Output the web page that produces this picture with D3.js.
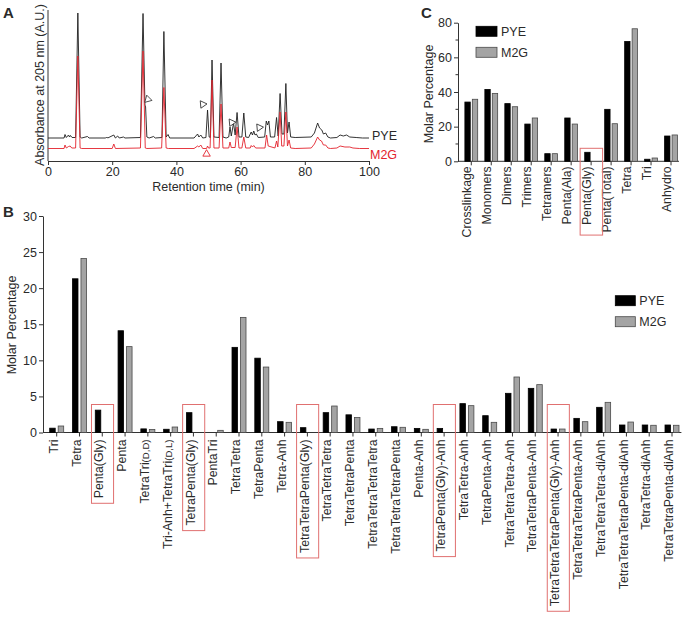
<!DOCTYPE html>
<html><head><meta charset="utf-8">
<script src="https://cdn.jsdelivr.net/npm/d3@7"></script>
<style>
body{margin:0;background:#fff}
svg{display:block;background:#fff}
text{font-family:"Liberation Sans",Arial,sans-serif;fill:#2a2a2a}
</style>
</head><body>
<svg id="fig" width="683" height="619"></svg>
<script>
// ---------------- DATA ----------------
const seriesNames = ["PYE", "M2G"];

// Panel A: chromatograms, [retention time (min), absorbance (A.U.)]
const pyeTrace = [[0,23],[5,23],[5.3,26.5],[5.7,23.5],[6.4,26],[6.7,24],[7.0,25.5],[7.5,23.5],[8.6,23.5],[9.3,148],[10.0,24],[10.5,23],[12.3,24.5],[12.8,23],[18,23],[18.3,24],[18.6,23],[20.5,26],[21,23],[21.7,25],[22.2,23],[23.5,24],[24,23],[28.8,23.5],[29.6,147.5],[30.2,56],[30.4,54],[30.8,24],[31.5,23],[32.9,24.5],[33.4,23],[35.5,23.5],[36.1,129.5],[36.8,24],[37.4,26.5],[37.9,23],[45.5,23],[46.6,27],[47.0,24],[47.6,26],[48.2,23],[49.2,23.5],[49.7,51],[50.2,24],[50.6,23.5],[51.1,101],[51.7,24],[53.3,23.5],[53.9,98],[54.5,24],[55.5,23],[56.3,24],[56.7,34],[57.1,25],[57.8,38],[58.3,26],[58.9,48.5],[59.5,24],[60.4,24],[61.0,48],[61.6,24],[62.5,23.5],[63.3,29],[63.7,26],[64.1,30],[64.5,26],[64.9,27],[65.5,23.5],[67.5,24],[68.0,40],[68.4,36],[68.8,40],[69.3,24],[70.6,24],[71.2,43.5],[71.7,25],[72.3,67.5],[72.9,27],[73.5,27],[74.1,77.5],[74.6,28],[75.1,39],[75.6,24],[77,23.5],[82,24],[83,28],[84,38],[84.6,33],[85.3,31],[85.8,27],[86.5,28],[87.2,24],[88,23],[90,23.5],[91,26],[92,25],[93,26],[94,24],[96,23.5],[98,23],[100,23]];
const m2gTrace = [[0,12.5],[5,12.5],[5.3,16],[5.7,13],[6.4,14.5],[6.9,15],[7.4,13],[8.6,13],[9.3,105],[10.0,13],[10.5,12.5],[20,12.5],[20.5,17],[21,12.5],[28.8,13],[29.6,110],[30.3,13],[30.8,12.5],[35.4,13],[36.1,73.5],[36.8,13],[37.5,12.5],[45.5,12.5],[46.6,15],[47.0,14],[47.6,16],[48.2,12.5],[49.4,12.5],[49.7,15],[50.0,13],[50.5,13],[51.1,81],[51.7,13],[53.3,13],[53.9,57],[54.5,13],[56.3,13],[56.7,19],[57.1,13.5],[58.3,13.5],[58.9,34],[59.5,13],[60.4,13],[61.0,24],[61.6,13],[63,13],[63.3,15.5],[63.7,14],[64.1,15.5],[64.7,13],[67.6,13],[68.1,26],[68.6,15],[70.7,13],[71.2,20],[71.6,14],[72.3,49],[72.8,15],[73.5,15],[74.1,49],[74.6,15],[75.1,21],[75.6,13],[77,12.5],[82,13],[83,17],[84,24],[84.6,21],[85.2,20],[85.8,16],[86.5,16],[87.2,13],[88,12.5],[90,13],[91,15],[92.5,14],[94,14],[95,13],[97,12.5],[100,12.5]];
const pyeMarkers = [[31.1,61.7],[48.2,56.7],[57.2,38.5],[65.8,33.5]];
const m2gMarkers = [[49.4,7]];
const aTicks = [0,20,40,60,80,100];

// Panel B: muropeptide molar percentages
const bCategories = ["Tri","Tetra","Penta(Gly)","Penta","TetraTri(D,D)","Tri-Anh+TetraTri(D,L)","TetraPenta(Gly)","PentaTri","TetraTetra","TetraPenta","Tetra-Anh","TetraTetraPenta(Gly)","TetraTetraTetra","TetraTetraPenta","TetraTetraTetraTetra","TetraTetraTetraPenta","Penta-Anh","TetraPenta(Gly)-Anh","TetraTetra-Anh","TetraPenta-Anh","TetraTetraTetra-Anh","TetraTetraPenta-Anh","TetraTetraTetraPenta(Gly)-Anh","TetraTetraTetraPenta-Anh","TetraTetraTetra-diAnh","TetraTetraTetraPenta-diAnh","TetraTetra-diAnh","TetraTetraPenta-diAnh"];
const bPYE = [0.6,21.3,3.1,14.1,0.5,0.45,2.75,0,11.8,10.3,1.5,0.67,2.75,2.45,0.48,0.8,0.57,0.57,4.0,2.33,5.43,6.12,0.48,1.96,3.49,1.04,1.04,1.04];
const bM2G = [0.9,24.1,0,11.9,0.42,0.76,0,0.3,15.95,9.07,1.41,0,3.67,2.07,0.57,0.72,0.44,0,3.72,1.41,7.69,6.63,0.48,1.5,4.18,1.45,1.0,1.0];
const bHighlight = ["Penta(Gly)","TetraPenta(Gly)","TetraTetraPenta(Gly)","TetraPenta(Gly)-Anh","TetraTetraTetraPenta(Gly)-Anh"];
const bTicks = [0,5,10,15,20,25,30];

// Panel C: summary
const cCategories = ["Crosslinkage","Monomers","Dimers","Trimers","Tetramers","Penta(Ala)","Penta(Gly)","Penta(Total)","Tetra","Tri","Anhydro"];
const cPYE = [34.2,41.5,33.3,21.5,4.4,25.0,5.2,30.0,69.2,1.2,14.6];
const cM2G = [35.8,39.2,31.5,25.0,4.4,21.5,0,21.7,76.5,1.9,15.2];
const cHighlight = ["Penta(Gly)"];
const cTicks = [0,20,40,60,80];
const cMinorTicks = [10,30,50,70];

// ---------------- DRAWING ----------------
const svg = d3.select("#fig");
const AX = "#333";
const barFill = {PYE:"#000000", M2G:"#a4a4a4"};
const barStroke = {PYE:"#000000", M2G:"#4a4a4a"};
const boxRed = "#e07070";

function styleAxis(g, fs){
  g.selectAll("path.domain").attr("stroke", AX).attr("stroke-width", 1);
  g.selectAll(".tick line").attr("stroke", AX).attr("stroke-width", 1);
  g.selectAll(".tick text").attr("font-size", fs).attr("fill", "#2a2a2a")
   .attr("font-family", '"Liberation Sans",Arial,sans-serif');
}
function panelLetter(x, y, s){
  svg.append("text").attr("x", x).attr("y", y).attr("font-size", 15)
    .attr("font-weight", "bold").attr("fill", "#111").text(s);
}

// ===== Panel A =====
const xA = d3.scaleLinear().domain([0,100]).range([48,369]);
const yA = d3.scaleLinear().domain([0,151]).range([161,10]);
const gA = svg.append("g");
const axA = gA.append("g").attr("transform", `translate(0,${yA(0)})`)
  .call(d3.axisBottom(xA).tickValues(aTicks).tickSize(4).tickSizeOuter(0).tickPadding(2));
styleAxis(axA, 12.5);
gA.append("line").attr("x1", xA(0)).attr("x2", xA(0)).attr("y1", yA(0)).attr("y2", yA(151))
  .attr("stroke", AX);
const lineA = d3.line().x(d => xA(d[0])).y(d => yA(d[1]));
gA.append("path").datum(pyeTrace).attr("d", lineA).attr("fill","none")
  .attr("stroke","#1e1e1e").attr("stroke-width",0.9).attr("stroke-linejoin","round");
gA.append("path").datum(m2gTrace).attr("d", lineA).attr("fill","none")
  .attr("stroke","#e3232c").attr("stroke-width",0.9).attr("stroke-linejoin","round");
const tri = d3.symbol().type(d3.symbolTriangle).size(24);
gA.selectAll("path.mk").data(pyeMarkers).join("path").attr("class","mk")
  .attr("d", tri).attr("fill","#fff").attr("stroke","#333").attr("stroke-width",0.8)
  .attr("transform", (d,i) => `translate(${xA(d[0])},${yA(d[1])}) rotate(${i===0?225:205})`);
gA.selectAll("path.mk2").data(m2gMarkers).join("path").attr("class","mk2")
  .attr("d", tri).attr("fill","#fff").attr("stroke","#e3232c").attr("stroke-width",0.9)
  .attr("transform", d => `translate(${xA(d[0])},${yA(d[1])})`);
gA.append("text").attr("x", xA(100)+3).attr("y", yA(pyeTrace[pyeTrace.length-1][1])+2)
  .attr("font-size",12.5).attr("fill","#222").text(seriesNames[0]);
gA.append("text").attr("x", xA(100)+1).attr("y", yA(m2gTrace[m2gTrace.length-1][1])+10)
  .attr("font-size",12.5).attr("fill","#e3232c").style("fill","#e3232c").text(seriesNames[1]);
gA.append("text").attr("x", (xA(0)+xA(100))/2).attr("y", 191).attr("text-anchor","middle")
  .attr("font-size",12.5).text("Retention time (min)");
gA.append("text").attr("transform","translate(44,85) rotate(-90)").attr("text-anchor","middle")
  .attr("font-size",12.5).text("Absorbance at 205 nm (A.U.)");
panelLetter(3, 18, "A");

// ===== helper for bar panels =====
function barPanel(cfg){
  const g = svg.append("g");
  const x0 = d3.scaleBand().domain(cfg.categories).range(cfg.xRange).padding(0);
  const y = d3.scaleLinear().domain(cfg.yDomain).range(cfg.yRange);
  const x1 = d3.scaleBand().domain(seriesNames)
    .range([x0.bandwidth()/2 - cfg.half, x0.bandwidth()/2 + cfg.half]).paddingInner(cfg.pin);
  // y axis
  const ay = g.append("g").attr("transform", `translate(${cfg.axisX},0)`)
    .call(d3.axisLeft(y).tickValues(cfg.ticks).tickSize(4).tickSizeOuter(0).tickPadding(2));
  styleAxis(ay, cfg.tickFs);
  if (cfg.minor) {
    g.append("g").selectAll("line").data(cfg.minor).join("line")
      .attr("x1", cfg.axisX-2.5).attr("x2", cfg.axisX).attr("y1", d=>y(d)).attr("y2", d=>y(d))
      .attr("stroke", AX);
  }
  // x axis
  const ax = g.append("g").attr("transform", `translate(0,${y(0)})`)
    .call(d3.axisBottom(x0).tickSize(4).tickSizeOuter(0).tickFormat(""));
  ax.select("path.domain").remove();
  styleAxis(ax, 12);
  g.append("line").attr("x1", cfg.axisX).attr("x2", cfg.xRange[1]-2).attr("y1", y(0)).attr("y2", y(0))
    .attr("stroke", AX);
  // bars
  const rows = cfg.categories.map((c,i) => ({cat:c, vals:[{s:"PYE",v:cfg.pye[i]},{s:"M2G",v:cfg.m2g[i]}]}));
  const grp = g.selectAll("g.cat").data(rows).join("g").attr("class","cat")
    .attr("transform", d => `translate(${x0(d.cat)},0)`);
  grp.selectAll("rect").data(d => d.vals.filter(v => v.v > 0)).join("rect")
    .attr("x", d => x1(d.s)).attr("width", x1.bandwidth())
    .attr("y", d => y(d.v)).attr("height", d => y(0) - y(d.v))
    .attr("fill", d => barFill[d.s]).attr("stroke", d => barStroke[d.s]).attr("stroke-width", 0.8);
  // category labels
  const labStart = y(0) + cfg.labGap;
  const labs = g.selectAll("text.cl").data(cfg.categories).join("text").attr("class","cl")
    .attr("text-anchor","end").attr("font-size", cfg.labFs)
    .attr("transform", d => `translate(${x0(d)+x0.bandwidth()/2+cfg.labDx},${labStart}) rotate(-90)`);
  labs.each(function(d){
    const t = d3.select(this);
    const m = d.match(/^(.*)(\(D,[DL]\))$/);
    if (m) {
      t.append("tspan").text(m[1]);
      t.append("tspan").attr("font-size", cfg.labFs*0.78).text(m[2]);
    } else t.text(d);
  });
  // highlight boxes
  labs.filter(d => cfg.highlight.includes(d)).each(function(d){
    const len = this.getComputedTextLength();
    g.append("rect").attr("x", x0(d)+cfg.boxPad).attr("width", x0.bandwidth()-2*cfg.boxPad+0.5)
      .attr("y", y(0)-cfg.boxTop).attr("height", cfg.boxTop + cfg.labGap + len + cfg.boxBottom)
      .attr("fill","none").attr("stroke", boxRed).attr("stroke-width", 1);
  });
  // legend
  const lg = g.append("g").attr("transform", `translate(${cfg.legend[0]},${cfg.legend[1]})`);
  seriesNames.forEach((s,i) => {
    lg.append("rect").attr("x",0).attr("y", i*cfg.legStep).attr("width", cfg.legW).attr("height", 10)
      .attr("fill", barFill[s]).attr("stroke", barStroke[s]).attr("stroke-width", 0.8);
    lg.append("text").attr("x", cfg.legW+4).attr("y", i*cfg.legStep+5).attr("dy","0.36em")
      .attr("font-size", 12.5).text(s);
  });
  // y label
  g.append("text").attr("transform", `translate(${cfg.ylab[0]},${cfg.ylab[1]}) rotate(-90)`)
    .attr("text-anchor","middle").attr("font-size", 12.5).text("Molar Percentage");
  return g;
}

// ===== Panel B =====
barPanel({
  categories: bCategories, pye: bPYE, m2g: bM2G, highlight: bHighlight,
  xRange: [45.3, 683.4], yDomain: [0,30], yRange: [432.5, 216], axisX: 43,
  half: 7, pin: 0.35, ticks: bTicks, tickFs: 12.5,
  labGap: 7, labFs: 12.3, labDx: 1.2, boxPad: 0.6, boxTop: 28, boxBottom: 5,
  legend: [615.3, 295.7], legStep: 21, legW: 20, ylab: [16, 325]
});
panelLetter(3, 217, "B");

// ===== Panel C =====
barPanel({
  categories: cCategories, pye: cPYE, m2g: cM2G, highlight: cHighlight,
  xRange: [461.3, 681], yDomain: [0,80], yRange: [161.3, 22.7], axisX: 458,
  half: 6.4, pin: 0.28, ticks: cTicks, tickFs: 12.5, minor: cMinorTicks,
  labGap: 5, labFs: 12.3, labDx: 0, boxPad: -1, boxTop: 13, boxBottom: 10,
  legend: [476, 26.3], legStep: 21, legW: 21, ylab: [433, 94]
});
panelLetter(421, 18, "C");
</script>
</body></html>
